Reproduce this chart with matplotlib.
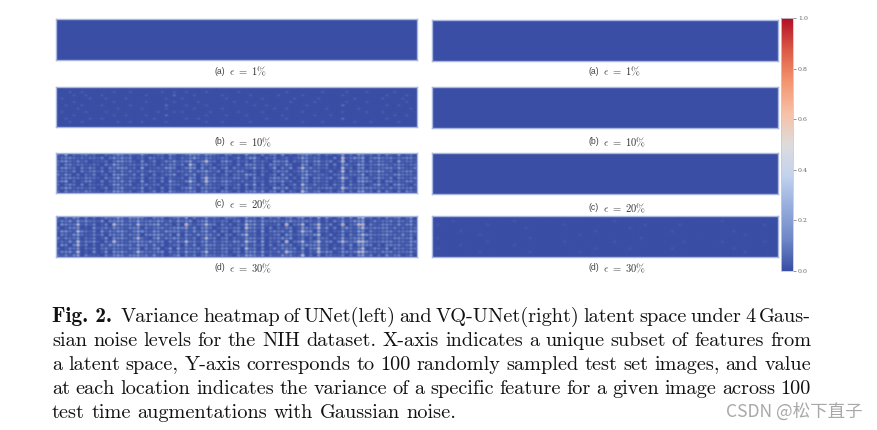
import numpy as np
import matplotlib
matplotlib.use("Agg")
import matplotlib.pyplot as plt
from matplotlib.colors import LinearSegmentedColormap
from matplotlib.cm import ScalarMappable

# cell values, one digit = tenths of variance
blank = ["0" * 10] * 2

left_b = [
    "0000000000 0000000000 0000000000 0000000000 0000000000 0000000000 0000000000 0000000000 0000000000",
    "0001001000 0000100010 0000001001 0010000100 0000010000 0000000100 0000001000 0010000100 0000100000",
    "0000100100 0100000000 0010000002 0000100000 0100000010 0000010000 0100000000 0100000000 0010000100",
    "0100000010 0010000100 0000000100 0100000000 0010000000 0100000001 0000010000 0000100000 0100001000",
    "0000100000 0000100000 0010000001 0000010000 0000100100 0000000010 0000100000 0010000100 0000000100",
    "0010001000 0100000010 0000000200 0010000100 0000000001 0010000000 0010000000 0200000000 0010010000",
    "0000010000 0000010000 0100000100 0000100000 0100000000 0000100100 0000000100 0000010000 0000000010",
    "0100000100 0010000000 0000010001 0100000010 0000010000 0100000000 0100000000 0100000100 0100000000",
    "0000100000 0000100100 0010000200 0000000100 0010000100 0000001000 0000100010 0000000000 0000100100",
    "0010000010 0100000000 0000100000 0010010000 0000000000 0010000100 0000000000 0200000000 0010000000",
    "0001001000 0000010010 0100000100 0000000100 0100000010 0000000000 0100001000 0000100010 0000010000",
    "0000000000 0000000000 0000000000 0000000000 0000000000 0000000000 0000000000 0000000000 0000000000",
]
# streaks and hot cells
left_c = [
    "1050102010 0000240130 1400100040 0104301430 1020010402 0000301000 0340130000 0501043010 3010040120",
    "0130201120 0000420210 1200200031 0102501320 1020130205 0000201100 0520210001 0702035020 4020120301",
    "2040100201 1000140220 0400100024 0205101820 0140020103 1000402000 0340140000 0802024010 3010050201",
    "1031102010 0000530102 1300200030 1306203310 1020030403 0000301000 0430230001 0401054020 4020031021",
    "0140201030 0000240310 0500100043 0105204120 0240010205 1000501100 0620120000 0602024010 2030140102",
    "2020103120 1000310120 1200200021 1204103520 1030130102 0000202000 0440310000 0701043030 5010020310",
    "1041020010 0000430210 0400100034 0102402310 0130020503 0000301000 0350120001 2402025020 3020140201",
    "0030201120 0000150102 1300200020 1204101720 1020030304 1000402100 0540230000 0701034010 4010030120",
    "2050100230 0000320130 0500100051 0106101820 0240010102 0000301000 0330120001 0502045020 3030120301",
    "1020201010 1000440210 1200200032 1103201420 1030130405 0000201000 0620310000 1401023010 5020040102",
    "0140102020 0000230102 1400100030 0205203320 1020020203 1000502100 0440120001 0802034030 2010130210",
    "2030201120 0000440120 0300200041 1103102210 0130010304 0000303000 0730210000 2402045010 4020030301",
]
left_d = [
    "2010230102 0030250013 4010320010 3050201410 1030210412 0301020230 1402050100 0301056020 2030210230",
    "1020150120 0000340102 5020240100 4031013510 1020130523 0402021042 0302130201 1402145010 1020130140",
    "0130260210 0000720201 6030350010 3082102630 0210021634 1501010802 0602070100 0802278030 1030120340",
    "2010340102 1020430103 4010230120 4051201420 1030210723 0401020330 1502060100 0302046020 2030210120",
    "1040160210 0010240210 5020410030 3031013510 0220130413 0502021130 0703050201 1402154010 1030120240",
    "0120350102 0000320102 4030240010 5042102430 1030021612 0301010430 1402060100 0401036030 2040210130",
    "2030240210 0020430201 6010350120 3031201620 0210210423 1402021240 0302040201 1502145010 1020130240",
    "1010170120 0000820103 4020230030 4062013410 1030130734 0501010802 0602080100 0702378020 2030120140",
    "0230360102 0010340210 5030410010 3041102530 0220021413 0402021230 1403050100 0301045030 1030210230",
    "2010240210 0000220102 4010340120 5031201420 1030210623 0301010320 0503060201 1402036010 2040120130",
    "1030170102 0020430201 6020230030 3052013610 0210130434 1502021840 0302080100 0402167020 1030120240",
    "0120350210 0000340103 4030410010 4031102320 1020021513 0301010230 1702040201 1301045030 2030210130",
]
# the weaker speckle between the streaks
left_c_fine = [
    "2130210302 0021003121 0310022012 0120030402 1032010012 0302104010 2102030210 1402030120 2031020120",
    "1203012102 1302014130 1203012031 0213021301 0210130240 1021301201 2031020103 0210402013 0213012031",
    "0312031201 0120214031 0201301320 1031023102 0302011203 0210130402 1201301230 1302102031 1202031021",
    "2013020102 1031302120 1031202103 0201303120 1201020130 1203021420 0130201303 0230130102 0301202102",
    "1302103102 0203014102 0301021402 0130402013 0210301021 0301203140 2013021201 0312031021 0203102013",
    "0201302013 1302103031 2013012130 2012031201 3012013102 0210130301 2031020130 1203140302 1302012031",
    "3102010203 0120214013 0210301203 0130302102 0130201032 0301204120 1302012102 0310201021 0201302120",
    "1203021302 1031302120 1302013021 0201303103 0201301203 0102130402 0210301230 2031021302 1203012013",
    "0310201301 0302014031 0201203012 1030302013 1302102013 1203024120 1030201201 1402010320 2013021031",
    "2013103021 1201302130 1031020130 2102031201 0201030212 0301203013 0201301203 0203102013 0120302102",
    "1203020102 0130214012 0302103021 0130201302 1030210103 0210130402 1302102330 1031201302 1203012031",
    "2031020301 1021003120 1201302012 1020301402 0301020130 1402104021 0201030120 1302030120 2031020120",
]
left_d_fine = [
    "2031420302 0132013141 0310023012 0120310402 1032010012 0402130120 3102030410 2403030120 2031030140",
    "1304012402 1403024130 1203013031 0214021302 0210230340 1021302301 2031030103 0210403013 0213012041",
    "0412031303 0130334031 0203401320 1031023103 0302021203 0210130402 3201301230 1302103031 1302041021",
    "2013040104 0231302130 2031203103 0301403120 1201030130 1303021320 0130201403 0340130203 0301302102",
    "1402103203 0403014103 0401031403 0130403013 0310301021 0301303140 2034021201 0312041031 0203102013",
    "0301402013 1303104031 2013413130 2012041301 3012014102 0310230301 2031430130 1303140402 1302014031",
    "3102040203 0140214013 0210301304 0130302103 0130201032 0301204120 1302012102 0410301031 0201302120",
    "1204031304 1031402130 1304013021 0201303103 0201401303 0102130402 3210301330 3031031402 1303012043",
    "0410301302 0304014031 0301403012 1030402013 1302103013 1203024120 1040301201 0314010320 2013031041",
    "2013140203 0231302130 1031020140 2102031302 0301030212 0301303013 0201301203 0303102013 0130302102",
    "1304020104 0140314012 0302104021 0130301302 1030210103 0210130402 1302102430 1031301302 1303012041",
    "2031030301 1031003130 1201302012 1020301402 0301030140 1402104021 0301030120 1302030130 2041030130",
]
right_d = [
    "0000000000 0000000000 0000000000 0000000000 0000000000 0000000000 0000000000 0000000000 0000000000",
    "0000010000 0000000000 0100000000 0000000000 0000000100 0000000000 0000000000 0000010000 0000000000",
    "0100000000 0000100000 0000000000 0000100000 0000000000 0000010000 0000100000 0000000000 0000001000",
    "0000000000 0000000000 0000100000 0000000000 0000000000 0100000000 0000000000 0000000000 0000000000",
    "0000000100 0000000000 0000000000 0000000000 0010000000 0000000000 0010000000 0000000010 0000000000",
    "0000000000 0010000000 0000000000 0000000010 0000000000 0000000000 0000000000 0000000000 0100000000",
    "0100000000 0000000000 0000010000 0000000000 0000000000 0000100000 0000000000 0000000000 0000000000",
    "0000000000 0000100000 0000000000 0000100000 0000000100 0000000000 0000010000 0000010000 0000001000",
    "0000000100 0000000000 0100000000 0000000000 0000000000 0000000000 0000000000 0000000000 0000000000",
    "0100000000 0000000000 0000000000 0000000000 0010000000 0100000000 0010000000 0000000010 0000000000",
    "0000000000 0010000000 0000010000 0000000010 0000000000 0000000000 0000000000 0000000000 0100000000",
    "0000000000 0000000000 0000000000 0000000000 0000000000 0000000000 0000000000 0000000000 0000000000",
]

subcaptions = ["(a)", "(b)", "(c)", "(d)"]
noise_levels = ["1", "10", "20", "30"]
colorbar_ticks = [0.0, 0.2, 0.4, 0.6, 0.8, 1.0]
caption_lines = [
    "Variance heatmap of UNet(left) and VQ-UNet(right) latent space under 4 Gaus-",
    "sian noise levels for the NIH dataset. X-axis indicates a unique subset of features from",
    "a latent space, Y-axis corresponds to 100 randomly sampled test set images, and value",
    "at each location indicates the variance of a specific feature for a given image across 100",
    "test time augmentations with Gaussian noise.",
]

W, H = 878, 430
cmap = LinearSegmentedColormap.from_list(
    "heat",
    ["#394ea4", "#6f88c6", "#94abdc", "#c2d2ee", "#dddcdc", "#f7c0a6", "#f3946f", "#dc5a46", "#b20f27"],
)
# each cell is drawn as a soft dot so the panels keep their speckle
dot = np.array([[0.12, 0.45, 0.12], [0.5, 1.0, 0.5], [0.12, 0.45, 0.12]])

fig = plt.figure(figsize=(W / 100, H / 100), dpi=100)


def px_axes(x0, y0, x1, y1):
    return fig.add_axes([x0 / W, 1 - y1 / H, (x1 - x0) / W, (y1 - y0) / H])


def to_grid(rows):
    return np.array([[int(c) / 10 for c in r.replace(" ", "")] for r in rows])


def layered(streaks, fine):
    g = to_grid(streaks)
    out = np.maximum(g * 0.62, to_grid(fine) * 0.6)
    out[g >= 0.6] = g[g >= 0.6]
    return out


def heat_panel(grid, x0, y0, x1, y1):
    ax = px_axes(x0, y0, x1, y1)
    ax.imshow(np.kron(grid, dot), cmap=cmap, vmin=0, vmax=1, aspect="auto", interpolation="bicubic")
    ax.set_xticks([])
    ax.set_yticks([])
    for s in ax.spines.values():
        s.set_color("#a9b6e0")
        s.set_linewidth(1)


left_y = [(19, 60), (87, 127), (153, 193), (216, 257)]
right_y = [(20, 61), (87, 128), (153, 194), (216, 257)]
left_data = [to_grid(blank), to_grid(left_b) * 0.5, layered(left_c, left_c_fine), layered(left_d, left_d_fine)]
right_data = [to_grid(blank), to_grid(blank), to_grid(blank), to_grid(right_d) * 0.35]
left_label_y = [71, 142, 204, 268]
right_label_y = [71, 142, 208, 268]

for i in range(4):
    heat_panel(left_data[i], 56, left_y[i][0], 417, left_y[i][1])
    heat_panel(right_data[i], 432, right_y[i][0], 778, right_y[i][1])
    for cx, ly in ((227, left_label_y[i]), (601, right_label_y[i])):
        fig.text((cx - 2) / W, 1 - ly / H, subcaptions[i], ha="right", va="center", fontsize=6.2,
                 color="#444444", family="Liberation Sans")
        fig.text((cx + 2) / W, 1 - ly / H, r"$\epsilon\ =\ %s\%%$" % noise_levels[i], ha="left",
                 va="center", fontsize=7.6, color="#333333", math_fontfamily="cm")

cax = px_axes(781, 18, 793, 271)
cb = fig.colorbar(ScalarMappable(cmap=cmap), cax=cax, ticks=colorbar_ticks)
cb.ax.tick_params(labelsize=4.5, length=2, width=0.5, colors="#666666", pad=1.5)
cb.outline.set_edgecolor("#c8c8d8")
cb.outline.set_linewidth(0.6)
for t in cb.ax.get_yticklabels():
    t.set_family("DejaVu Serif")

# caption, justified word by word
renderer = fig.canvas.get_renderer()
cap_size = 14.6
cap_left, cap_right = 52, 811
line_y = [322, 346, 370, 394, 418]


def word_w(s, family):
    t = fig.text(0, 0, s, fontsize=cap_size, family=family)
    w = t.get_window_extent(renderer).width
    t.remove()
    return w


for n, line in enumerate(caption_lines):
    words = line.split(" ")
    x = cap_left
    if n == 0:
        fig.text(x / W, 1 - line_y[n] / H, "Fig. 2.", fontsize=15.4, family="cmb10", color="#111111")
        x = 121
    widths = [word_w(w, "cmr10") for w in words]
    if n < 4:
        gap = (cap_right - x - sum(widths)) / (len(words) - 1)
    else:
        gap = 6.5
    for w, ww in zip(words, widths):
        fig.text(x / W, 1 - line_y[n] / H, w, fontsize=cap_size, family="cmr10", color="#111111")
        x += ww + gap

fig.text(726 / W, 1 - 412 / H, "CSDN @松下直子", fontsize=12.6, color="#a8a8a8", va="center",
         family=["Noto Sans CJK SC", "DejaVu Sans"])

fig.savefig("out.png", dpi=100)
